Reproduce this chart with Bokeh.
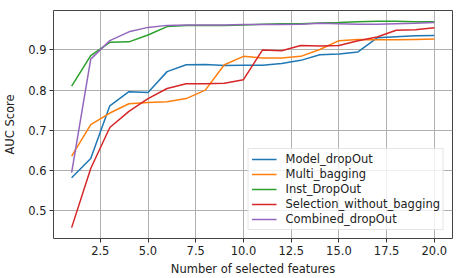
from bokeh.plotting import figure
from bokeh.models import FixedTicker, PrintfTickFormatter, Range1d, Legend, LegendItem
from bokeh.embed import file_html
from bokeh.resources import INLINE

features = list(range(1, 21))
model_dropout = [0.582, 0.630, 0.761, 0.796, 0.794, 0.846, 0.863, 0.864, 0.861, 0.862,
                 0.862, 0.866, 0.874, 0.888, 0.890, 0.895, 0.930, 0.933, 0.935, 0.936]
multi_bagging = [0.636, 0.714, 0.743, 0.766, 0.769, 0.771, 0.779, 0.800, 0.863, 0.884,
                 0.880, 0.880, 0.884, 0.901, 0.923, 0.926, 0.925, 0.925, 0.926, 0.927]
inst_dropout = [0.810, 0.886, 0.919, 0.920, 0.937, 0.958, 0.961, 0.961, 0.961, 0.962,
                0.964, 0.965, 0.965, 0.967, 0.968, 0.970, 0.971, 0.971, 0.970, 0.970]
selection_without_bagging = [0.458, 0.605, 0.707, 0.747, 0.779, 0.804, 0.816, 0.816, 0.817, 0.826,
                             0.900, 0.898, 0.911, 0.910, 0.911, 0.923, 0.932, 0.949, 0.950, 0.955]
combined_dropout = [0.595, 0.877, 0.923, 0.945, 0.956, 0.961, 0.962, 0.962, 0.962, 0.963,
                    0.963, 0.963, 0.964, 0.966, 0.965, 0.964, 0.964, 0.965, 0.966, 0.968]

series_names = ["Model_dropOut", "Multi_bagging", "Inst_DropOut",
                "Selection_without_bagging", "Combined_dropOut"]
series_values = [model_dropout, multi_bagging, inst_dropout,
                 selection_without_bagging, combined_dropout]
colors = ["#1f77b4", "#ff7f0e", "#2ca02c", "#d62728", "#9467bd"]

x_ticks = [2.5, 5.0, 7.5, 10.0, 12.5, 15.0, 17.5, 20.0]
y_ticks = [0.5, 0.6, 0.7, 0.8, 0.9]

FONT = "DejaVu Sans"
FS = "11.5px"

p = figure(width=463, height=278, output_backend="svg", toolbar_location=None,
           x_range=Range1d(0.05, 20.95), y_range=Range1d(0.431, 0.998),
           min_border_left=53, min_border_right=11, min_border_top=10, min_border_bottom=37)

items = []
for name, vals, c in zip(series_names, series_values, colors):
    r = p.line(features, vals, line_color=c, line_width=1.5)
    items.append(LegendItem(label=name, renderers=[r]))

legend = Legend(items=items, location="bottom_right")
legend.label_text_font = FONT
legend.label_text_font_size = FS
legend.label_text_color = "#222222"
legend.border_line_color = "#cccccc"
legend.border_line_width = 1
legend.background_fill_color = "white"
legend.background_fill_alpha = 0.8
legend.padding = 3
legend.margin = 8
legend.spacing = 1
legend.glyph_width = 25
legend.glyph_height = 12
legend.label_height = 12
legend.label_standoff = 9
p.add_layout(legend, "center")

p.xaxis.ticker = FixedTicker(ticks=x_ticks)
p.yaxis.ticker = FixedTicker(ticks=y_ticks)
p.xaxis.formatter = PrintfTickFormatter(format="%.1f")
p.yaxis.formatter = PrintfTickFormatter(format="%.1f")
p.xaxis.axis_label = "Number of selected features"
p.yaxis.axis_label = "AUC Score"

for ax in (p.xaxis, p.yaxis):
    ax.axis_label_text_font = FONT
    ax.axis_label_text_font_size = FS
    ax.axis_label_text_font_style = "normal"
    ax.axis_label_text_color = "#222222"
    ax.major_label_text_font = FONT
    ax.major_label_text_font_size = FS
    ax.major_label_text_color = "#222222"
    ax.minor_tick_line_color = None
    ax.major_tick_out = 4
    ax.major_tick_in = 0
    ax.major_tick_line_color = "#333333"
    ax.axis_line_color = None
    ax.major_label_standoff = 3
    ax.axis_label_standoff = 4

p.yaxis.axis_label_standoff = 8

p.outline_line_color = "#444444"
p.outline_line_width = 1
p.outline_line_alpha = 1
p.xgrid.grid_line_color = "#b0b0b0"
p.ygrid.grid_line_color = "#b0b0b0"
p.xgrid.grid_line_width = 1
p.ygrid.grid_line_width = 1
p.background_fill_color = "white"
p.border_fill_color = "white"

open("out.html", "w").write(file_html(p, INLINE))
